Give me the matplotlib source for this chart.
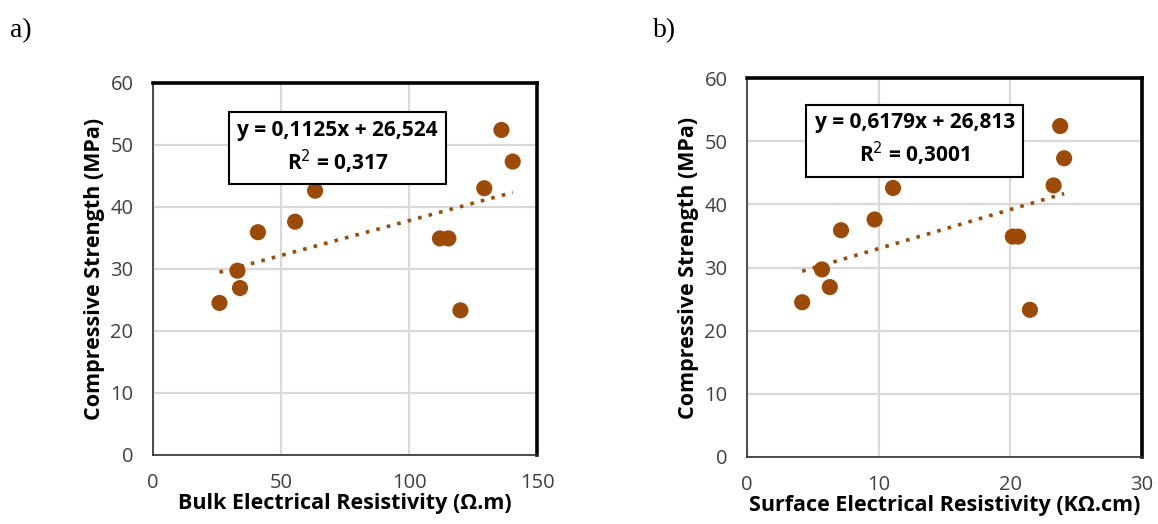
import matplotlib as mpl
import matplotlib.pyplot as plt
import numpy as np

# panel a: bulk resistivity (ohm.m) vs compressive strength (MPa)
bulk_res = [26, 33, 34, 41, 55.5, 63.3, 112, 115.3, 120, 129.3, 136, 140.4]
bulk_cs = [24.5, 29.7, 26.9, 35.9, 37.6, 42.6, 34.9, 34.9, 23.3, 43.0, 52.4, 47.3]

# panel b: surface resistivity (kohm.cm) vs compressive strength (MPa)
surf_res = [4.2, 5.7, 6.3, 7.15, 9.7, 11.1, 20.2, 20.6, 21.5, 23.3, 23.8, 24.1]
surf_cs = [24.5, 29.7, 26.9, 35.9, 37.6, 42.6, 34.9, 34.9, 23.3, 43.0, 52.4, 47.3]

fit_a = [0.1125, 26.524]
fit_b = [0.6179, 26.813]

eq_a = "y = 0,1125x + 26,524\nR$^2$ = 0,317"
eq_b = "y = 0,6179x + 26,813\nR$^2$ = 0,3001"

y_ticks = [0, 10, 20, 30, 40, 50, 60]
x_ticks_a = [0, 50, 100, 150]
x_ticks_b = [0, 10, 20, 30]

brown = "#9c4a06"
font = ["Open Sans", "DejaVu Sans"]

plt.rcParams["font.family"] = font

fig = plt.figure(figsize=(11.58, 5.24), dpi=100)
ax_a = fig.add_axes([0.132, 0.132, 0.332, 0.710])
ax_b = fig.add_axes([0.645, 0.128, 0.341, 0.723])


def draw_panel(ax, xs, ys, fit, eq, xticks, xlabel, box_pos):

	ax.set_xlim(xticks[0], xticks[-1])
	ax.set_ylim(0, 60)
	ax.set_xticks(xticks)
	ax.set_yticks(y_ticks)
	ax.grid(True, color="#d9d9d9", linewidth=1.6)
	ax.set_axisbelow(True)
	ax.tick_params(length=0, labelsize=14.5, labelcolor="#404040")
	ax.tick_params(axis="y", pad=14)
	ax.tick_params(axis="x", pad=13)

	for side in ["left", "bottom"]:
		ax.spines[side].set_linewidth(1.2)
		ax.spines[side].set_color("#303030")
	#end_for
	for side in ["top", "right"]:
		ax.spines[side].set_linewidth(2.6)
		ax.spines[side].set_color("black")
	#end_for

	ax.scatter(xs, ys, s=135, color=brown, zorder=3, edgecolors="none")

	xfit = np.array([min(xs), max(xs)])
	ax.plot(xfit, fit[0] * xfit + fit[1], color=brown, linestyle=(0, (1, 2)),
		linewidth=2.6, zorder=2)

	ax.text(box_pos[0], box_pos[1], eq, transform=ax.transAxes, ha="center",
		va="center", fontsize=15, fontweight="bold", linespacing=1.3,
		bbox=dict(boxstyle="square,pad=0.4", facecolor="white",
			edgecolor="black", linewidth=1.5), zorder=4)

	ax.set_xlabel(xlabel, fontsize=15.5, fontweight="bold", labelpad=0)
	ax.set_ylabel("Compressive Strength (MPa)", fontsize=15.5, fontweight="bold", labelpad=4)

	return

#end_def


draw_panel(ax_a, bulk_res, bulk_cs, fit_a, eq_a, x_ticks_a,
	"Bulk Electrical Resistivity (\u03a9.m)", (0.48, 0.825))
draw_panel(ax_b, surf_res, surf_cs, fit_b, eq_b, x_ticks_b,
	"Surface Electrical Resistivity (K\u03a9.cm)", (0.425, 0.836))

fig.text(0.009, 0.93, "a)", fontsize=20, family=["Liberation Serif", "DejaVu Serif"])
fig.text(0.564, 0.93, "b)", fontsize=20, family=["Liberation Serif", "DejaVu Serif"])

fig.savefig("out.png", dpi=100)
